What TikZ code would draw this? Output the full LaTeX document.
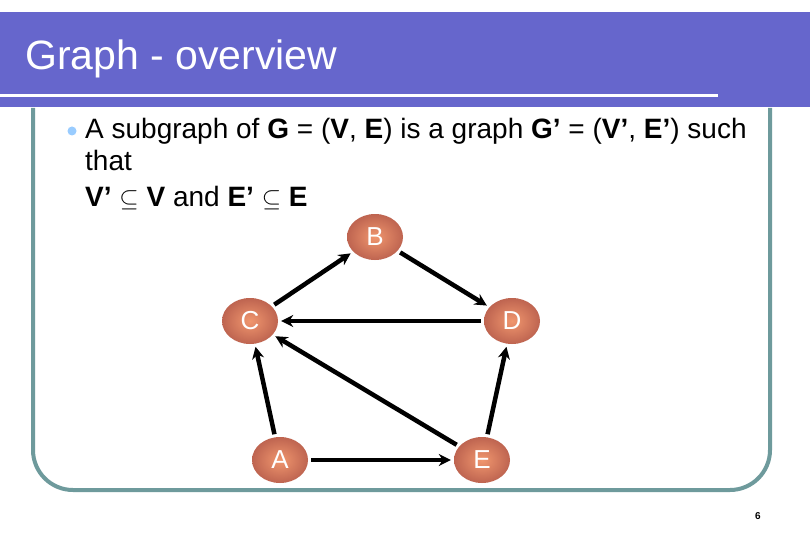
\documentclass[tikz,border=0pt]{standalone}
\usepackage{fontspec}
\setmainfont{Liberation Sans}
\usetikzlibrary{shapes.geometric,arrows.meta}
\definecolor{band}{HTML}{6666CC}
\definecolor{frame}{HTML}{6E9A9C}
\definecolor{bul}{HTML}{99CCFF}
\tikzset{
 vtx/.style={ellipse,minimum width=56pt,minimum height=46pt,inner sep=0pt,
   shading=radial,inner color={rgb,255:red,240;green,150;blue,110},outer color={rgb,255:red,190;green,100;blue,80},
   text=white,font=\fontsize{26}{28}\selectfont},
 edge/.style={line width=4.5pt,shorten <=3pt,shorten >=3pt,-{Stealth[length=12pt,width=12pt]}},
 body/.style={anchor=base west,inner sep=0pt,font=\fontsize{28}{32}\selectfont}
}
\begin{document}
\begin{tikzpicture}[x=1pt,y=-1pt]
\useasboundingbox (0,0) rectangle (810,540);
\fill[white] (0,0) rectangle (810,540);
\fill[band] (0,12) rectangle (810,107);
\fill[white] (0,94) rectangle (718,97.5);
\node[anchor=base west,inner sep=0pt,text=white,font=\fontsize{41}{44}\selectfont] (title) at (25,70) {Graph - overview};
\draw[frame,line width=4pt,rounded corners=40pt] (33,108) -- (33,490) -- (770,490) -- (770,108);
\fill[bul] (72,131) circle (4.5pt);
\node[body] (l1) at (85,139) {A subgraph of \textbf{G} = (\textbf{V}, \textbf{E}) is a graph \textbf{G’} = (\textbf{V’}, \textbf{E’}) such};
\node[body] (l2) at (85,171) {that};
\node[body] (l3) at (85,206) {\textbf{V’} $\subseteq$ \textbf{V} and \textbf{E’} $\subseteq$ \textbf{E}};
\node[vtx] (B) at (375,237) {B};
\node[vtx] (C) at (250,321) {C};
\node[vtx] (D) at (512,321) {D};
\node[vtx] (A) at (280,460) {A};
\node[vtx] (E) at (482,460) {E};
\draw[edge] (C) -- (B);
\draw[edge] (B) -- (D);
\draw[edge] (D) -- (C);
\draw[edge] (E) -- (C);
\draw[edge] (A) -- (C);
\draw[edge] (A) -- (E);
\draw[edge] (E) -- (D);
\node[font=\bfseries\fontsize{10}{12}\selectfont] (pg) at (758,516) {6};
\end{tikzpicture}
\end{document}
